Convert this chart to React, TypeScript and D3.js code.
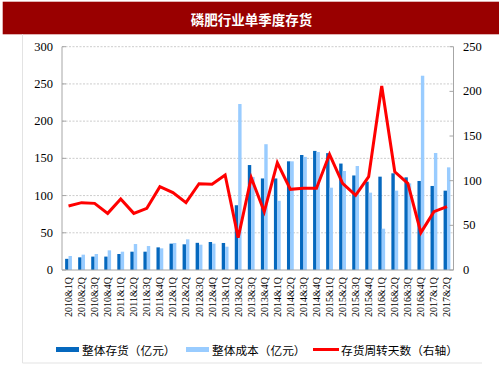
import React from "react";
import * as d3 from "d3";

const categories = [
  "2010&1Q","2010&2Q","2010&3Q","2010&4Q",
  "2011&1Q","2011&2Q","2011&3Q","2011&4Q",
  "2012&1Q","2012&2Q","2012&3Q","2012&4Q",
  "2013&1Q","2013&2Q","2013&3Q","2013&4Q",
  "2014&1Q","2014&2Q","2014&3Q","2014&4Q",
  "2015&1Q","2015&2Q","2015&3Q","2015&4Q",
  "2016&1Q","2016&2Q","2016&3Q","2016&4Q",
  "2017&1Q","2017&2Q",
];

const inventory = [
  15, 17, 18, 18, 21.5, 24.6, 24.6, 30.4, 35.4, 34.5, 36.5, 37.6, 36.3, 87, 141,
  123, 123, 146, 154.5, 160, 157, 143, 127, 118.7, 125.4, 129.9, 124.5, 119.6, 112.9, 106.6,
];

const cost = [
  18.8, 20.6, 21.5, 26.4, 24.6, 34.9, 32.2, 29.1, 36.3, 41.2, 34, 35.4, 31.3, 223, 125,
  169, 93, 146, 152, 158.5, 110.6, 133, 139.7, 103.9, 55.5, 106.6, 116.4, 261, 157.2, 137.9,
];

const turnoverDays = [
  71.6, 75.4, 74.6, 63.4, 79.5, 63.4, 69, 93.3, 86.6, 75.4, 96.6, 95.9, 106.3, 36.2, 103.4,
  65.3, 120.1, 90.3, 91.4, 91.4, 129.5, 97, 83.6, 104.5, 206, 110, 97, 41.8, 65.3, 70.9,
];

const leftTicks = [0, 50, 100, 150, 200, 250, 300];
const rightTicks = [0, 50, 100, 150, 200, 250];

const title = "磷肥行业单季度存货";
const legendLabels = ["整体存货（亿元）", "整体成本（亿元）", "存货周转天数（右轴）"];

const DARK = "#0568BE";
const LIGHT = "#99CCFF";
const RED = "#FF0000";
const AXIS = "#A6A6A6";

export default function App() {
  const W = 503, H = 378;
  const left = 62, right = 453.5, top = 46.7, bottom = 270;
  const x = d3.scaleBand<string>().domain(categories).range([left, right]).paddingInner(0);
  const yL = d3.scaleLinear().domain([0, 300]).range([bottom, top]);
  const yR = d3.scaleLinear().domain([0, 250]).range([bottom, top]);
  const bw = 3.4;
  const cx = (c: string) => (x(c) as number) + x.bandwidth() / 2;
  const line = d3
    .line<number>()
    .x((_, i) => cx(categories[i]))
    .y((d) => yR(d));
  const serif = "'Liberation Serif', 'Times New Roman', serif";
  const cjk = "'Noto Sans CJK SC', sans-serif";

  return (
    <svg width={W} height={H} style={{ position: "absolute", left: 0, top: 0, background: "#fff" }}>
      <rect x={2.7} y={1.7} width={496.3} height={32.6} fill="#990000" />
      <text x={251.5} y={18.5} textAnchor="middle" dominantBaseline="central" fill="#fff"
        fontFamily={cjk} fontWeight="bold" fontSize={13.5}>{title}</text>
      {/* frame */}
      <line x1={22.5} y1={34.3} x2={22.5} y2={363} stroke="#E3E3E3" strokeWidth={1} />
      <line x1={22.5} y1={363} x2={482} y2={363} stroke="#E3E3E3" strokeWidth={1} />

      {/* gridlines */}
      {leftTicks.slice(1).map((t) => (
        <line key={"g" + t} x1={left} x2={right} y1={yL(t)} y2={yL(t)} stroke="#BFBFBF"
          strokeWidth={0.8} strokeDasharray="2,1.5" />
      ))}

      {/* bars */}
      {categories.map((c, i) => (
        <g key={c}>
          <rect x={cx(c) - bw} y={yL(inventory[i])} width={bw} height={bottom - yL(inventory[i])} fill={DARK} />
          <rect x={cx(c)} y={yL(cost[i])} width={bw} height={bottom - yL(cost[i])} fill={LIGHT} />
        </g>
      ))}

      {/* line */}
      <path d={line(turnoverDays) || ""} fill="none" stroke={RED} strokeWidth={3} strokeLinejoin="miter" />

      {/* axes */}
      <line x1={left} x2={left} y1={top} y2={bottom} stroke={AXIS} />
      <line x1={right} x2={right} y1={top} y2={bottom} stroke={AXIS} />
      <line x1={left} x2={right} y1={bottom} y2={bottom} stroke={AXIS} />
      {leftTicks.map((t) => (
        <g key={"l" + t}>
          <line x1={left} x2={left + 4} y1={yL(t)} y2={yL(t)} stroke={AXIS} />
          <text x={53} y={yL(t)} textAnchor="end" dominantBaseline="central" fontFamily={serif} fontSize={12.5} fill="#000">{t}</text>
        </g>
      ))}
      {rightTicks.map((t) => (
        <g key={"r" + t}>
          <line x1={right - 4} x2={right} y1={yR(t)} y2={yR(t)} stroke={AXIS} />
          <text x={463} y={yR(t)} textAnchor="start" dominantBaseline="central" fontFamily={serif} fontSize={12.5} fill="#000">{t}</text>
        </g>
      ))}
      {categories.map((c) => (
        <text key={"x" + c} transform={`translate(${cx(c)},${277}) rotate(-90)`} textAnchor="end"
          dominantBaseline="central" fontFamily={serif} fontSize={10} fill="#000">{c}</text>
      ))}

      {/* legend */}
      <rect x={56} y={347} width={23} height={5} fill={DARK} />
      <text x={82} y={349.5} dominantBaseline="central" fontFamily={cjk} fontSize={11.7} fill="#000">{legendLabels[0]}</text>
      <rect x={186} y={347} width={23} height={5} fill={LIGHT} />
      <text x={212} y={349.5} dominantBaseline="central" fontFamily={cjk} fontSize={11.7} fill="#000">{legendLabels[1]}</text>
      <line x1={313} x2={339} y1={349.5} y2={349.5} stroke={RED} strokeWidth={3} />
      <text x={341} y={349.5} dominantBaseline="central" fontFamily={cjk} fontSize={11.7} fill="#000">{legendLabels[2]}</text>
    </svg>
  );
}
